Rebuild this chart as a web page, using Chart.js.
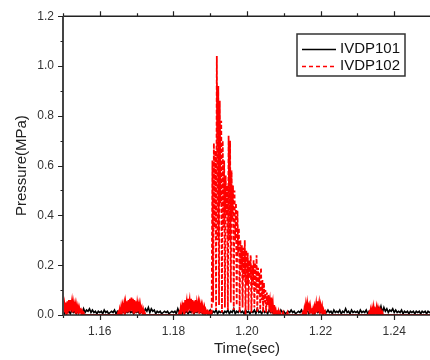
<!DOCTYPE html>
<html>
<head>
<meta charset="utf-8">
<script src="https://cdn.jsdelivr.net/npm/chart.js@4.4.1/dist/chart.umd.min.js"></script>
<style>
  html, body { margin: 0; padding: 0; background: #fff; overflow: hidden; }
  #chart { display: block; }
</style>
</head>
<body>
<canvas id="chart" width="440" height="360"></canvas>
<script>
// sampling of both gauges
const T_START = 1.15;
const STEP_101 = 0.0004;
const STEP_102 = 0.0002;

const X_TICKS = [1.16, 1.18, 1.2, 1.22, 1.24];
const X_MINOR = [1.15, 1.17, 1.19, 1.21, 1.23, 1.25];
const Y_TICKS = [0, 0.2, 0.4, 0.6, 0.8, 1.0, 1.2];
const Y_MINOR = [0.1, 0.3, 0.5, 0.7, 0.9, 1.1];

const SERIES_NAMES = ["IVDP101", "IVDP102"];

// IVDP101 (black), one value every STEP_101
const ivdp101 = [
  .015, .005, .02, .01, .015, .005, .02, .01, .015, .005,
  .015, .01, .02, .005, .025, .01, .02, .015, .025, .01,
  .02, .01, .015, .005, .015, .01, .015, .005, .02, .01,
  .015, .005, .01, .015, .01, .02, .005, .015, .01, .015,
  .01, .015, .005, .015, .01, .02, .01, .015, .005, .015,
  .01, .015, .005, .01, .015, .01, .025, .015, .03, .01,
  .025, .015, .02, .005, .015, .01, .015, .005, .01, .015,
  .01, .015, .005, .01, .015, .01, .015, .005, .025, .01,
  .015, .005, .02, .01, .015, .005, .015, .01, .02, .005,
  .015, .01, .02, .01, .015, .005, .02, .01, .015, .01,
  .02, .005, .015, .01, .02, .005, .015, .01, .015, .005,
  .015, .01, .02, .005, .015, .01, .025, .005, .015, .01,
  .02, .01, .015, .005, .02, .01, .015, .005, .015, .01,
  .02, .005, .025, .01, .015, .005, .02, .01, .015, .005,
  .02, .01, .015, .005, .02, .01, .015, .005, .02, .01,
  .015, .005, .01, .015, .01, .02, .01, .015, .005, .01,
  .015, .01, .02, .005, .015, .01, .02, .005, .015, .01,
  .015, .005, .02, .01, .015, .01, .025, .005, .015, .01,
  .02, .01, .015, .005, .02, .01, .015, .01, .02, .005,
  .015, .01, .025, .01, .015, .005, .02, .01, .015, .01,
  .015, .005, .02, .01, .015, .01, .02, .005, .015, .01,
  .02, .01, .025, .01, .03, .015, .035, .01, .03, .015,
  .025, .01, .02, .015, .025, .01, .02, .01, .015, .01,
  .02, .005, .015, .01, .015, .005, .015, .01, .015, .005,
  .015, .01, .015, .005, .015, .01, .015, .005, .015, .01,
  .015
];

// IVDP102 (red dashed), one value every STEP_102
const ivdp102 = [
  .04, .01, .045, .025, .05, 0, .055, .03, .06, .015,
  .06, .035, .055, .01, .05, .03, .045, .005, .04, .02,
  .035, .01, .03, .015, .02, 0, .015, .005, .01, 0,
  0, 0, 0, 0, 0, 0, 0, 0, 0, 0,
  0, 0, 0, 0, 0, 0, 0, 0, 0, 0,
  0, 0, 0, 0, 0, 0, 0, 0, 0, 0,
  0, 0, 0, 0, 0, 0, 0, 0, 0, 0,
  0, 0, 0, 0, 0, .01, 0, .02, 0, .03,
  .005, .04, .025, .045, 0, .05, .03, .055, .01, .06,
  .035, .065, .015, .07, .04, .065, .005, .06, .03, .055,
  .01, .05, .03, .045, .005, .04, .02, .03, .005, .02,
  0, .01, 0, 0, 0, 0, 0, 0, 0, 0,
  0, 0, 0, 0, 0, 0, 0, 0, 0, 0,
  0, 0, 0, 0, 0, 0, 0, 0, 0, 0,
  0, 0, 0, 0, 0, 0, 0, 0, 0, 0,
  0, 0, 0, 0, 0, 0, 0, 0, .01, 0,
  .03, .015, .04, .025, .05, 0, .06, .035, .055, .01,
  .065, .04, .06, .015, .065, .035, .06, .005, .055, .03,
  .06, .01, .05, .03, .05, .005, .045, .025, .04, .005,
  .035, .015, .03, 0, .02, .01, .015, 0, .01, 0,
  .01, 0, .005, .62, .05, .69, .35, .66, .02, 1.04,
  .3, .92, .04, .86, .45, .78, .01, .7, .35, .62,
  .03, .56, .4, .52, .02, .72, .3, .7, .05, .58,
  .38, .52, .02, .5, .3, .45, .04, .42, .25, .35,
  .01, .3, .18, .28, .03, .27, .15, .3, 0, .26,
  .12, .25, .02, .22, .15, .24, .01, .2, .12, .22,
  .03, .21, .1, .24, .01, .19, .08, .17, .02, .19,
  .06, .14, .01, .13, .05, .1, .01, .09, .04, .08,
  .04, .06, .01, .07, .03, .05, 0, .04, .01, .02,
  0, .01, 0, .015, 0, .01, 0, 0, 0, .01,
  0, 0, 0, 0, 0, .01, 0, 0, 0, 0,
  0, 0, 0, 0, 0, 0, 0, 0, 0, 0,
  0, 0, 0, 0, 0, 0, .01, 0, .025, .005,
  .04, .015, .05, .03, .04, .005, .035, .015, .02, .005,
  .025, .01, .035, .02, .045, .01, .055, .03, .05, .015,
  .04, .02, .035, 0, .02, .01, .015, 0, 0, 0,
  0, 0, 0, 0, 0, 0, 0, 0, 0, 0,
  0, 0, 0, 0, 0, 0, 0, 0, 0, 0,
  0, 0, 0, 0, 0, 0, 0, 0, 0, 0,
  0, 0, 0, 0, 0, 0, 0, 0, 0, 0,
  0, 0, 0, 0, 0, 0, 0, 0, 0, 0,
  0, 0, 0, 0, 0, 0, .01, 0, .02, 0,
  .025, .005, .03, 0, .02, .01, .03, 0, .025, .005,
  .02, 0, .015, 0, .01, 0, 0, 0, 0, 0,
  0, 0, 0, 0, 0, 0, 0, 0, 0, 0,
  0, 0, 0, 0, 0, 0, 0, 0, 0, 0,
  0, 0, 0, 0, 0, 0, 0, 0, 0, 0,
  0, 0, 0, 0, 0, 0, 0, 0, 0, 0,
  0, 0, 0, 0, 0, 0, 0, 0, 0, 0,
  0, 0, 0, 0, 0, 0, 0, 0, 0, 0,
  0
];

function toPoints(values, step) {
  var pts = [];
  for (let i = 0; i < values.length; i++) {
    pts.push({ x: T_START + i * step, y: values[i] });
  }
  return pts;
}

const FONT = "'Liberation Sans', Arial, sans-serif";

//============================
// axes + legend drawn by hand
//============================
const framePlugin = {
  id: "frame",
  afterDatasetsDraw(chart) {
    const ctx = chart.ctx;
    const a = chart.chartArea;
    const xs = chart.scales.x;
    const ys = chart.scales.y;
    ctx.save();

    // top and bottom axis
    ctx.strokeStyle = "#222";
    ctx.lineWidth = 1.5;
    ctx.beginPath();
    ctx.moveTo(a.left, a.top);
    ctx.lineTo(a.right, a.top);
    ctx.moveTo(a.left, a.bottom);
    ctx.lineTo(a.right, a.bottom);
    ctx.moveTo(a.right, a.top);
    ctx.lineTo(a.right, a.bottom);
    ctx.stroke();

    // x ticks, bottom (down) and top (up)
    ctx.lineWidth = 1.2;
    ctx.beginPath();
    X_TICKS.forEach(function (v) {
      const px = Math.round(xs.getPixelForValue(v)) + 0.5;
      ctx.moveTo(px, a.bottom);
      ctx.lineTo(px, a.bottom + 5);
      ctx.moveTo(px, a.top);
      ctx.lineTo(px, a.top - 5);
    });
    X_MINOR.forEach(function (v) {
      const px = Math.round(xs.getPixelForValue(v)) + 0.5;
      ctx.moveTo(px, a.bottom);
      ctx.lineTo(px, a.bottom + 3);
      ctx.moveTo(px, a.top);
      ctx.lineTo(px, a.top - 3);
    });
    ctx.stroke();

    // left axis
    ctx.strokeStyle = "#444";
    ctx.lineWidth = 2;
    ctx.beginPath();
    ctx.moveTo(a.left, a.top);
    ctx.lineTo(a.left, a.bottom + 1);
    ctx.stroke();

    ctx.lineWidth = 1.2;
    ctx.strokeStyle = "#222";
    ctx.beginPath();
    Y_TICKS.forEach(function (v) {
      const py = Math.round(ys.getPixelForValue(v)) + 0.5;
      ctx.moveTo(a.left, py);
      ctx.lineTo(a.left - 5, py);
    });
    Y_MINOR.forEach(function (v) {
      const py = Math.round(ys.getPixelForValue(v)) + 0.5;
      ctx.moveTo(a.left, py);
      ctx.lineTo(a.left - 2.5, py);
    });
    ctx.stroke();

    // legend box
    const bx = 297, by = 34, bw = 108, bh = 42;
    ctx.fillStyle = "#fff";
    ctx.fillRect(bx, by, bw, bh);
    ctx.strokeStyle = "#333";
    ctx.lineWidth = 1.5;
    ctx.strokeRect(bx, by, bw, bh);

    ctx.lineWidth = 1.5;
    ctx.strokeStyle = "#000";
    ctx.beginPath();
    ctx.moveTo(bx + 5, by + 15.5);
    ctx.lineTo(bx + 39, by + 15.5);
    ctx.stroke();

    ctx.strokeStyle = "#ff0000";
    ctx.setLineDash([4, 3]);
    ctx.beginPath();
    ctx.moveTo(bx + 5, by + 32.5);
    ctx.lineTo(bx + 39, by + 32.5);
    ctx.stroke();
    ctx.setLineDash([]);

    ctx.fillStyle = "#111";
    ctx.font = "15px " + FONT;
    ctx.textBaseline = "middle";
    ctx.textAlign = "left";
    ctx.fillText(SERIES_NAMES[0], bx + 43, by + 15);
    ctx.fillText(SERIES_NAMES[1], bx + 43, by + 32);

    ctx.restore();
  },
};

// the low, very dense wiggles read as solid red in the original
function smallSegmentDash(ctx) {
  if (ctx.p0.parsed.y < 0.09 && ctx.p1.parsed.y < 0.09) {
    return [];
  }
  return undefined;
}

var config = {
  type: "line",
  data: {
    datasets: [
      {
        label: SERIES_NAMES[1],
        data: toPoints(ivdp102, STEP_102),
        borderColor: "#ff0000",
        borderWidth: 1.8,
        borderDash: [4, 2],
        segment: { borderDash: smallSegmentDash },
        pointRadius: 0,
        tension: 0,
        fill: false,
      },
      {
        label: SERIES_NAMES[0],
        data: toPoints(ivdp101, STEP_101),
        borderColor: "#000",
        borderWidth: 1.6,
        pointRadius: 0,
        tension: 0,
        fill: false,
      },
    ],
  },
  options: {
    responsive: false,
    animation: false,
    layout: { padding: { left: 0, top: 15, right: 9, bottom: 0 } },
    plugins: {
      legend: { display: false },
      tooltip: { enabled: false },
    },
    scales: {
      x: {
        type: "linear",
        min: 1.15,
        max: 1.25,
        grid: { display: false, drawTicks: false },
        border: { display: false },
        afterBuildTicks: function (scale) {
          scale.ticks = X_TICKS.map(function (v) { return { value: v }; });
        },
        afterFit: function (scale) {
          scale.height = 45;
        },
        ticks: {
          padding: 9,
          color: "#333",
          font: { family: FONT, size: 12 },
          maxRotation: 0,
          autoSkip: false,
          callback: function (v) { return v.toFixed(2); },
        },
        title: {
          display: true,
          text: "Time(sec)",
          color: "#222",
          font: { family: FONT, size: 15 },
          padding: { top: 0, bottom: 2 },
        },
      },
      y: {
        min: 0,
        max: 1.2,
        grid: { display: false, drawTicks: false },
        border: { display: false },
        afterBuildTicks: function (scale) {
          scale.ticks = Y_TICKS.map(function (v) { return { value: v }; });
        },
        afterFit: function (scale) {
          scale.width = 63;
        },
        ticks: {
          padding: 9,
          color: "#333",
          font: { family: FONT, size: 12 },
          callback: function (v) { return v.toFixed(1); },
        },
        title: {
          display: true,
          text: "Pressure(MPa)",
          color: "#222",
          font: { family: FONT, size: 15 },
          padding: { top: 13, bottom: 0 },
        },
      },
    },
  },
  plugins: [framePlugin],
};

new Chart(document.getElementById("chart"), config);
</script>
</body>
</html>
